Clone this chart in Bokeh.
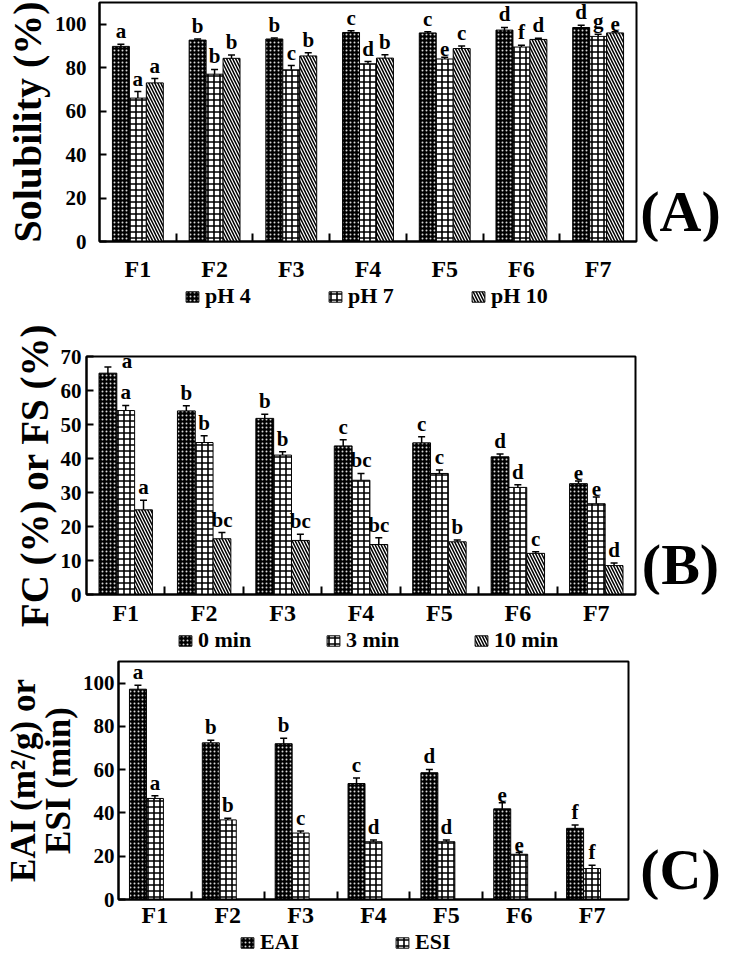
from bokeh.plotting import figure
from bokeh.models import (ColumnDataSource, Range1d, FixedTicker, Whisker, TeeHead,
                          Legend, LegendItem, Label)
from bokeh.layouts import column, row
from bokeh.embed import file_html
from bokeh.resources import INLINE

# ---------------- data ----------------
categories = ["F1", "F2", "F3", "F4", "F5", "F6", "F7"]

# (A) Solubility (%)
sol_names = ["pH 4", "pH 7", "pH 10"]
sol_ph4 = [89.8, 92.7, 93.2, 96.2, 96.0, 97.3, 98.5]
sol_ph7 = [66.0, 77.0, 79.0, 81.8, 84.0, 89.5, 94.4]
sol_ph10 = [73.0, 84.3, 85.4, 84.4, 88.8, 93.0, 96.0]
sol_ph4_err = [1.0, 0.5, 0.5, 0.8, 0.5, 1.2, 1.0]
sol_ph7_err = [3.0, 2.2, 2.0, 1.0, 0.8, 0.8, 1.0]
sol_ph10_err = [2.0, 1.5, 1.5, 1.5, 1.2, 0.5, 0.5]
sol_ph4_sig = ["a", "b", "b", "c", "c", "d", "d"]
sol_ph7_sig = ["a", "b", "c", "d", "e", "f", "g"]
sol_ph10_sig = ["a", "b", "b", "b", "c", "d", "e"]

# (B) FC (%) or FS (%)
foam_names = ["0 min", "3 min", "10 min"]
foam_0 = [65.1, 54.0, 51.8, 43.7, 44.6, 40.5, 32.6]
foam_3 = [54.1, 44.7, 41.0, 33.6, 35.6, 31.5, 26.7]
foam_10 = [24.9, 16.4, 15.9, 14.7, 15.5, 12.1, 8.5]
foam_0_err = [1.8, 1.5, 1.2, 1.8, 1.8, 0.8, 0.8]
foam_3_err = [1.5, 2.0, 1.0, 2.0, 1.0, 0.8, 2.0]
foam_10_err = [2.8, 1.8, 1.8, 2.0, 0.5, 0.5, 0.8]
foam_0_sig = ["a", "b", "b", "c", "c", "d", "e"]
foam_3_sig = ["a", "b", "b", "bc", "c", "d", "e"]
foam_10_sig = ["a", "bc", "bc", "bc", "b", "c", "d"]

# (C) EAI (m2/g) or ESI (min)
emul_names = ["EAI", "ESI"]
eai = [97.2, 72.4, 72.0, 53.6, 58.6, 41.9, 32.9]
esi = [46.7, 36.8, 30.7, 26.7, 26.7, 20.9, 14.3]
eai_err = [1.8, 1.2, 2.5, 2.5, 1.5, 2.8, 1.5]
esi_err = [1.2, 0.8, 1.0, 0.8, 0.8, 0.8, 1.5]
eai_sig = ["a", "b", "b", "c", "d", "e", "f"]
esi_sig = ["a", "b", "c", "d", "d", "e", "f"]

# ---------------- styles ----------------
FONT = "Liberation Serif"
STYLE_DARK = dict(fill_color="black", hatch_pattern="dot", hatch_color="white",
                  hatch_scale=4, hatch_weight=1, hatch_alpha=0.85)
STYLE_GRID = dict(fill_color="white", hatch_pattern="cross", hatch_color="black",
                  hatch_scale=6, hatch_weight=1.6)
STYLE_DIAG = dict(fill_color="white", hatch_pattern="left_diagonal_line", hatch_color="black",
                  hatch_scale=6, hatch_weight=1.5)


def make_panel(series, styles, bar_w, slots, ymax, ystep, ylabel, ylabel_size,
               height, width, b_left, b_top, b_bottom, ylab_standoff, xlab_standoff,
               ylabel_lh=1.2):
    n = len(categories)
    p = figure(width=width, height=height, output_backend="svg", toolbar_location=None,
               x_range=Range1d(0, n), y_range=Range1d(0, ymax),
               min_border_left=b_left, min_border_right=2,
               min_border_top=b_top, min_border_bottom=b_bottom)
    p.grid.visible = False
    p.outline_line_color = "black"
    p.outline_line_width = 2
    p.outline_line_alpha = 1.0

    centers = [i + 0.5 for i in range(n)]
    sources = []
    for k, ((vals, errs, sigs), st) in enumerate(zip(series, styles)):
        off = slots[k] * bar_w
        xs = [c + off for c in centers]
        lo = [v - e for v, e in zip(vals, errs)]
        hi = [v + e for v, e in zip(vals, errs)]
        # letter placement: above the error bar, or beside the bar if no room
        ty, xo, yo = [], [], []
        for v, e in zip(vals, errs):
            if v + e > ymax * 0.93:
                ty.append(v); xo.append(19); yo.append(0)
            else:
                ty.append(v + e); xo.append(0); yo.append(-1)
        src = ColumnDataSource(dict(x=xs, top=vals, lo=lo, hi=hi, sig=sigs, ty=ty, xo=xo, yo=yo))
        sources.append(src)
        p.vbar(x="x", top="top", bottom=0, width=bar_w, source=src,
               line_color="black", line_width=1, **st)
        wk = Whisker(base="x", lower="lo", upper="hi", source=src, line_color="black",
                     line_width=1.5,
                     upper_head=TeeHead(size=7, line_width=1.5, line_color="black"),
                     lower_head=TeeHead(size=7, line_width=1.5, line_color="black"))
        p.add_layout(wk)
        p.text(x="x", y="ty", text="sig", source=src, x_offset="xo", y_offset="yo",
               text_align="center", text_baseline="bottom", text_font=FONT,
               text_font_style="bold", text_font_size="21px", text_color="black")

    # x axis
    xa = p.xaxis[0]
    xa.ticker = FixedTicker(ticks=centers, minor_ticks=list(range(1, n)))
    xa.major_label_overrides = {c: cat for c, cat in zip(centers, categories)}
    xa.major_tick_line_color = None
    xa.major_tick_in = 0
    xa.major_tick_out = 0
    xa.minor_tick_in = 8
    xa.minor_tick_out = 0
    xa.minor_tick_line_width = 2
    xa.minor_tick_line_color = "black"
    xa.axis_line_width = 2
    xa.axis_line_color = "black"
    xa.major_label_standoff = xlab_standoff
    xa.major_label_text_font = FONT
    xa.major_label_text_font_style = "bold"
    xa.major_label_text_font_size = "24px"
    xa.major_label_text_line_height = 0.8
    xa.major_label_text_color = "black"

    # y axis
    ya = p.yaxis[0]
    ya.ticker = FixedTicker(ticks=list(range(0, int(ymax) + 1, ystep)))
    ya.major_tick_in = 7
    ya.major_tick_out = 0
    ya.major_tick_line_width = 2
    ya.major_tick_line_color = "black"
    ya.minor_tick_line_color = None
    ya.axis_line_width = 2
    ya.axis_line_color = "black"
    ya.major_label_standoff = ylab_standoff
    ya.major_label_text_font = FONT
    ya.major_label_text_font_style = "bold"
    ya.major_label_text_font_size = "21px"
    ya.major_label_text_color = "black"
    ya.axis_label = ylabel
    ya.axis_label_text_font = FONT
    ya.axis_label_text_font_style = "bold"
    ya.axis_label_text_font_size = ylabel_size
    ya.axis_label_text_color = "black"
    ya.axis_label_standoff = 2
    ya.axis_label_text_line_height = ylabel_lh
    return p, sources


def make_legend(names, styles, sources, height, x0, label_w):
    """A strip holding the horizontal legend of one panel (swatches only)."""
    f = figure(width=722, height=height, output_backend="svg", toolbar_location=None,
               x_axis_type=None, y_axis_type=None, min_border=0,
               x_range=Range1d(0, 1), y_range=Range1d(0, 1))
    f.outline_line_color = None
    f.grid.visible = False
    items = []
    for name, st, src in zip(names, styles, sources):
        r = f.vbar(x="x", top="top", width=0.1, source=src, line_color="black",
                   line_width=1, visible=False, **st)
        items.append(LegendItem(label=name, renderers=[r]))
    leg = Legend(items=items, orientation="horizontal", location=(x0, 0),
                 border_line_color=None, background_fill_alpha=0, padding=0, margin=0,
                 spacing=12, glyph_width=16, glyph_height=13, label_standoff=5,
                 label_width=label_w, label_height=13, inactive_fill_alpha=0,
                 label_text_font=FONT, label_text_font_style="bold",
                 label_text_font_size="22px", label_text_color="black")
    f.add_layout(leg)
    return f


def make_tag(text, width, height, x, y):
    # its frame lines up with the neighbouring panel's frame (row alignment)
    t = figure(width=width, height=height, output_backend="svg", toolbar_location=None,
               x_axis_type=None, y_axis_type=None, min_border=0,
               x_range=Range1d(0, 1), y_range=Range1d(0, 1))
    t.outline_line_color = None
    t.grid.visible = False
    t.add_layout(Label(x=x, y=y, x_units="screen", y_units="screen", text=text,
                       text_font=FONT, text_font_style="bold", text_font_size="58px",
                       text_align="center", text_baseline="middle", text_color="black"))
    return t


A_STYLES = [STYLE_DARK, STYLE_GRID, STYLE_DIAG]
pA, sA = make_panel(
    series=[(sol_ph4, sol_ph4_err, sol_ph4_sig), (sol_ph7, sol_ph7_err, sol_ph7_sig),
            (sol_ph10, sol_ph10_err, sol_ph10_sig)],
    styles=A_STYLES,
    bar_w=0.221, slots=[-1, 0, 1], ymax=110, ystep=20, ylabel="Solubility (%)",
    ylabel_size="40px", height=284, width=638, b_left=99, b_top=2, b_bottom=38,
    ylab_standoff=13, xlab_standoff=14)
tA = make_tag("(A)", 84, 284, 42, 30)
lA = make_legend(sol_names, A_STYLES, sA, 25, 184, 110)

pB, sB = make_panel(
    series=[(foam_0, foam_0_err, foam_0_sig), (foam_3, foam_3_err, foam_3_sig),
            (foam_10, foam_10_err, foam_10_sig)],
    styles=A_STYLES,
    bar_w=0.227, slots=[-1, 0, 1], ymax=70, ystep=10, ylabel="FC (%) or FS (%)",
    ylabel_size="39px", height=319, width=637, b_left=86, b_top=47, b_bottom=31,
    ylab_standoff=5, xlab_standoff=5)
tB = make_tag("(B)", 85, 319, 43, 30)
lB = make_legend(foam_names, A_STYLES, sB, 25, 177, 115)

C_STYLES = [STYLE_DARK, STYLE_GRID]
pC, sC = make_panel(
    series=[(eai, eai_err, eai_sig), (esi, esi_err, esi_sig)],
    styles=C_STYLES,
    bar_w=0.233, slots=[-1, 0], ymax=110, ystep=20, ylabel="EAI (m\u00b2/g) or\nESI (min)",
    ylabel_size="35px", height=277, width=630, b_left=112, b_top=8, b_bottom=28,
    ylab_standoff=4, xlab_standoff=2, ylabel_lh=0.9)
tC = make_tag("(C)", 92, 277, 50, 30)
lC = make_legend(emul_names, C_STYLES, sC, 25, 239, 122)

layout = column(row(pA, tA), lA, row(pB, tB), lB, row(pC, tC), lC, spacing=0)

open("out.html", "w").write(file_html(layout, INLINE))
